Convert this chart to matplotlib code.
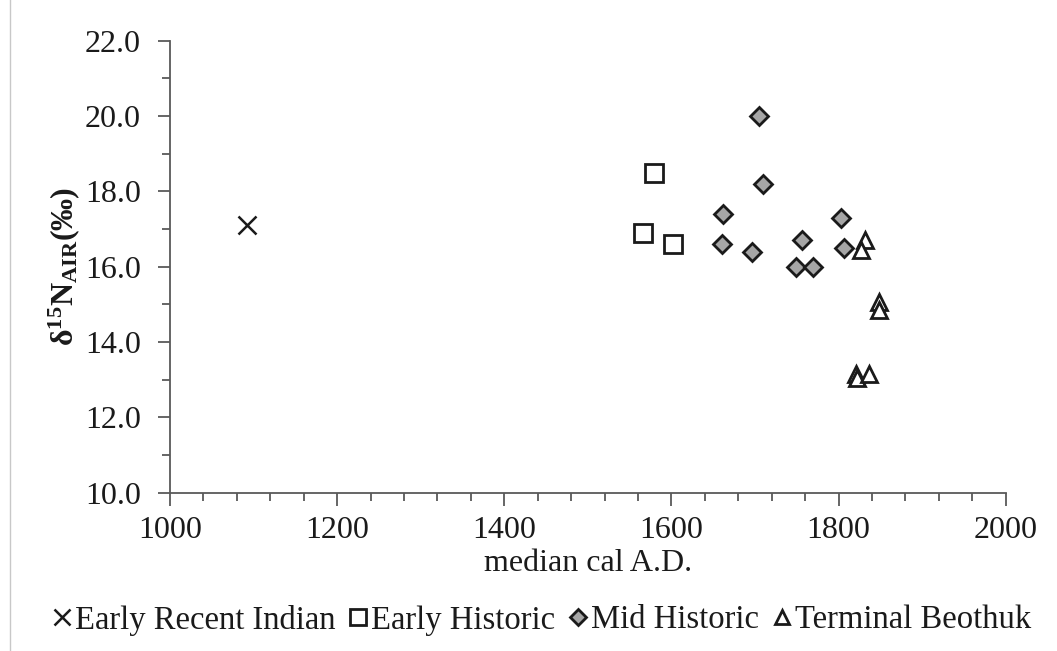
import matplotlib
matplotlib.use("Agg")
import matplotlib.pyplot as plt
from matplotlib.ticker import MultipleLocator, FormatStrFormatter
from matplotlib.lines import Line2D

plt.rcParams['font.family'] = ['Liberation Serif', 'DejaVu Serif']
plt.rcParams['mathtext.fontset'] = 'custom'
plt.rcParams['mathtext.rm'] = 'Liberation Serif'
plt.rcParams['mathtext.it'] = 'Liberation Serif:italic'
plt.rcParams['mathtext.bf'] = 'Liberation Serif:bold'

# Data (median cal A.D., d15N)
eri_x = [1092]
eri_y = [17.1]

eh_x = [1579, 1566, 1602]
eh_y = [18.5, 16.9, 16.6]

mh_x = [1705, 1710, 1662, 1661, 1696, 1756, 1749, 1770, 1803, 1806]
mh_y = [20.0, 18.2, 17.4, 16.6, 16.4, 16.7, 16.0, 16.0, 17.3, 16.5]

tb_x = [1832, 1827, 1848, 1848, 1821, 1822, 1837]
tb_y = [16.7, 16.45, 15.07, 14.85, 13.15, 13.05, 13.15]

labels = ["Early Recent Indian", "Early Historic", "Mid Historic", "Terminal Beothuk"]

fig = plt.figure(figsize=(10.57, 6.51), dpi=100)
ax = fig.add_axes([170/1057, 1-492.7/651, (1005.7-170)/1057, (492.7-40.7)/651])

edge = '#1a1a1a'
ax.plot(eri_x, eri_y, linestyle='none', marker='x', ms=13, mew=1.8, color=edge, label=labels[0])
ax.plot(eh_x, eh_y, linestyle='none', marker='s', ms=13.5, mew=2.0, mfc='white', mec=edge, label=labels[1])
ax.plot(mh_x, mh_y, linestyle='none', marker='D', ms=9.5, mew=2.0, mfc='#a6a6a6', mec=edge, label=labels[2])
ax.plot(tb_x, tb_y, linestyle='none', marker='^', ms=12, mew=2.0, mfc='white', mec=edge, label=labels[3])

ax.set_xlim(1000, 2000)
ax.set_ylim(10, 22)
ax.xaxis.set_major_locator(MultipleLocator(200))
ax.xaxis.set_minor_locator(MultipleLocator(40))
ax.yaxis.set_major_locator(MultipleLocator(2))
ax.yaxis.set_minor_locator(MultipleLocator(1))
ax.yaxis.set_major_formatter(FormatStrFormatter('%.1f'))

spine_c = '#595959'
for s in ['top', 'right']:
    ax.spines[s].set_visible(False)
for s in ['left', 'bottom']:
    ax.spines[s].set_color(spine_c)
    ax.spines[s].set_linewidth(1.3)

ax.tick_params(axis='both', which='major', direction='out', length=9, width=1.3,
               color=spine_c, labelsize=23, labelcolor='#1a1a1a', pad=8)
ax.tick_params(axis='both', which='minor', direction='out', length=6, width=1.3, color=spine_c)
ax.tick_params(axis='y', which='major', pad=12)

ax.set_xlabel('median cal A.D.', fontsize=23, color='#1a1a1a', labelpad=3)
ax.set_ylabel(r'$\mathbf{δ^{15}N_{AIR}}$' + r'$\mathbf{(‰)}$', fontsize=23, color='#1a1a1a', labelpad=2)

leg = fig.legend(loc='center', bbox_to_anchor=(0.511, 1-620/651), ncol=4, frameon=False,
                 fontsize=23.5, handletextpad=0.0, columnspacing=0.3, handlelength=0.8,
                 markerscale=0.85, labelcolor='#1a1a1a')

fig.add_artist(Line2D([9.5/1057, 9.5/1057], [0, 1], transform=fig.transFigure, color='#c8c8c8', lw=1))

fig.savefig('out.png', dpi=100, facecolor='white')
